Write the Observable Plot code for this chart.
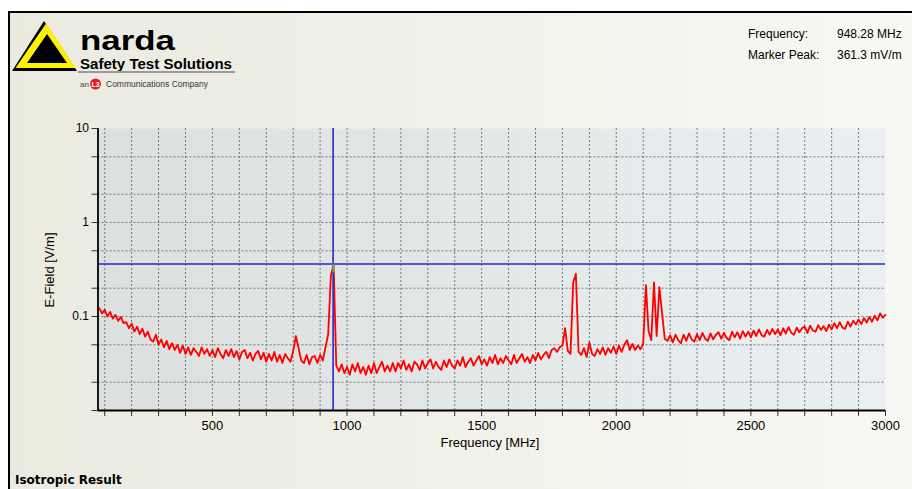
<!DOCTYPE html>
<html>
<head>
<meta charset="utf-8">
<script src="https://cdn.jsdelivr.net/npm/d3@7"></script>
<script src="https://cdn.jsdelivr.net/npm/@observablehq/plot@0.6"></script>
<style>
html, body { margin: 0; padding: 0; background: #fff; width: 912px; height: 489px; overflow: hidden; }
#wrap { position: relative; width: 912px; height: 489px; }
#bg { position: absolute; left: 8px; top: 11px; width: 904px; height: 478px; box-sizing: border-box;
      border-left: 2px solid #000; border-top: 2px solid #000;
      background: linear-gradient(to right, #EBEADF, #F8F8F4); }
#chart { position: absolute; left: 0; top: 0; }
#overlay { position: absolute; left: 0; top: 0; }
</style>
</head>
<body>
<div id="wrap">
  <div id="bg"></div>
  <div id="chart"></div>
  <svg id="overlay" width="912" height="489" xmlns="http://www.w3.org/2000/svg">
    <!-- logo -->
    <polygon points="44,21 12,71 77,71" fill="#000"/>
    <polygon points="46,23.5 15.5,68 75.5,68" fill="#FFF200"/>
    <polygon points="47,34 27,63 67,63" fill="#000"/>
    <text x="80" y="49.5" font-family="'Liberation Sans', Arial, sans-serif" font-weight="bold" font-size="27" textLength="95" lengthAdjust="spacingAndGlyphs" fill="#000">narda</text>
    <text x="80" y="69" font-family="'Liberation Sans', Arial, sans-serif" font-weight="bold" font-size="14.5" textLength="152" lengthAdjust="spacingAndGlyphs" fill="#000">Safety Test Solutions</text>
    <line x1="78" y1="72" x2="235" y2="72" stroke="#9a9a9a" stroke-width="2"/>
    <text x="80" y="87" font-family="'Liberation Sans', Arial, sans-serif" font-size="8" fill="#444">an</text>
    <circle cx="95.5" cy="84" r="5.5" fill="#E41E1E"/>
    <text x="95.5" y="86.8" text-anchor="middle" font-family="'Liberation Sans', Arial, sans-serif" font-weight="bold" font-size="7" fill="#fff">L3</text>
    <text x="106" y="87" font-family="'Liberation Sans', Arial, sans-serif" font-size="8.5" fill="#333">Communications Company</text>
    <!-- header -->
    <text id="hdrFreqLabel" x="748" y="38" font-family="'Liberation Sans', Arial, sans-serif" font-size="12" fill="#000">Frequency:</text>
    <text id="hdrFreqVal" x="837" y="38" font-family="'Liberation Sans', Arial, sans-serif" font-size="12" fill="#000"></text>
    <text id="hdrPeakLabel" x="748" y="59" font-family="'Liberation Sans', Arial, sans-serif" font-size="12" fill="#000">Marker Peak:</text>
    <text id="hdrPeakVal" x="837" y="59" font-family="'Liberation Sans', Arial, sans-serif" font-size="12" fill="#000"></text>
    <!-- axis titles -->
    <text transform="translate(54,270) rotate(-90)" text-anchor="middle" font-family="'Liberation Sans', Arial, sans-serif" font-size="13" fill="#000">E-Field [V/m]</text>
    <text x="490" y="447" text-anchor="middle" font-family="'Liberation Sans', Arial, sans-serif" font-size="13" fill="#000">Frequency [MHz]</text>
    <text x="15" y="484" font-family="'DejaVu Sans', sans-serif" font-weight="bold" font-size="12" fill="#000">Isotropic Result</text>
  </svg>
</div>
<script>
// ---------------- data ----------------
const FREQ_START = 80;   // MHz, first sample
const FREQ_STEP = 10;    // MHz between samples
// E-field trace in mV/m, 80 ... 3000 MHz
const fieldMilliVolts = [
  122, 108, 118, 100, 112, 95, 104, 90, 99, 85,        // 80-170
  87, 75, 84, 69, 78, 65, 74, 61, 69, 57,              // 180-270
  54, 64, 50, 57, 47, 55, 45, 52, 44, 50,              // 280-370
  41, 49, 40, 47, 39, 46, 42, 38, 47, 40,              // 380-470
  45, 38, 44, 37, 46, 40, 36, 44, 38, 45,              // 480-570
  37, 43, 35, 42, 44, 36, 41, 34, 40, 43,              // 580-670
  35, 41, 33, 40, 34, 42, 33, 39, 32, 40,              // 680-770
  36, 33, 43, 62, 46, 34, 32, 39, 31, 37,              // 780-870
  38, 32, 39, 34, 47, 65, 270, 361, 30, 26,            // 880-970
  31, 25, 29, 24, 31, 26, 32, 25, 29, 24,              // 980-1070
  30, 25, 32, 25, 29, 33, 26, 30, 26, 32,              // 1080-1170
  26, 32, 28, 34, 27, 31, 26, 33, 31, 27,              // 1180-1270
  34, 28, 32, 35, 28, 33, 29, 27, 34, 29,              // 1280-1370
  35, 30, 28, 34, 30, 37, 29, 33, 36, 30,              // 1380-1470
  34, 38, 31, 35, 30, 37, 32, 39, 31, 36,              // 1480-1570
  32, 38, 34, 31, 39, 32, 36, 40, 33, 37,              // 1580-1670
  32, 39, 34, 41, 35, 39, 42, 36, 44, 46,              // 1680-1770
  42, 47, 49, 75, 43, 40, 230, 285, 42, 39,            // 1780-1870
  46, 37, 53, 40, 38, 45, 40, 47, 39, 46,              // 1880-1970
  41, 48, 40, 49, 42, 50, 56, 44, 51, 44,              // 1980-2070
  49, 45, 51, 215, 70, 56, 230, 62, 205, 110,          // 2080-2170
  58, 55, 63, 53, 64, 56, 52, 64, 55, 66,              // 2180-2270
  57, 54, 65, 56, 67, 58, 55, 66, 57, 64,              // 2280-2370
  68, 58, 67, 59, 56, 69, 60, 68, 58, 70,              // 2380-2470
  61, 69, 60, 71, 62, 73, 63, 61, 72, 64,              // 2480-2570
  74, 65, 73, 63, 75, 66, 77, 67, 64, 76,              // 2580-2670
  68, 75, 78, 67, 80, 71, 69, 81, 72, 79,              // 2680-2770
  70, 82, 73, 85, 75, 87, 76, 74, 88, 78,              // 2780-2870
  90, 82, 93, 83, 96, 86, 99, 88, 102, 91,             // 2880-2970
  108, 97, 104                                         // 2980-3000
];
const xDomain = [75, 3000];
const yDomain = [0.01, 10];
const xLabeledTicks = [500, 1000, 1500, 2000, 2500, 3000];
const xMinorTicks = [100, 200, 300, 400, 500, 600, 700, 800, 900, 1000, 1100, 1200, 1300, 1400, 1500,
  1600, 1700, 1800, 1900, 2000, 2100, 2200, 2300, 2400, 2500, 2600, 2700, 2800, 2900, 3000];
const yTicks = [10, 5, 2, 1, 0.5, 0.2, 0.1, 0.05, 0.02, 0.01];
const yLabeledTicks = [10, 1, 0.1];
const markerFreq = 948.28;     // MHz
const markerPeak = 0.3613;     // V/m
const markerHighlightLow = 0.29; // V/m, lower end of the highlighted peak segment

// ---------------- build ----------------
const trace = fieldMilliVolts.map((v, i) => ({f: FREQ_START + i * FREQ_STEP, e: v / 1000}));
const xGrid = xMinorTicks.filter(d => d < xDomain[1]);
const yGrid = yTicks.filter(d => d > yDomain[0] && d < yDomain[1]);

document.getElementById("hdrFreqVal").textContent = markerFreq.toFixed(2) + " MHz";
document.getElementById("hdrPeakVal").textContent = (markerPeak * 1000).toFixed(1) + " mV/m";

const svg = Plot.plot({
  width: 912,
  height: 489,
  marginLeft: 97.5,
  marginRight: 27,
  marginTop: 128,
  marginBottom: 79,
  style: {background: "transparent", fontFamily: "'Liberation Sans', Arial, sans-serif", fontSize: "13px", color: "#000"},
  x: {type: "linear", domain: xDomain},
  y: {type: "log", domain: yDomain},
  marks: [
    Plot.frame({fill: "url(#plotbg)", stroke: "none"}),
    Plot.ruleX(xGrid, {stroke: "#777", strokeWidth: 1, strokeDasharray: "2,2"}),
    Plot.ruleY(yGrid, {stroke: "#777", strokeWidth: 1, strokeDasharray: "2,2"}),
    Plot.line(trace, {x: "f", y: "e", stroke: "#FF0000", strokeWidth: 1.8}),
    Plot.ruleX([markerFreq], {stroke: "#2626C8", strokeWidth: 1.6}),
    Plot.ruleY([markerPeak], {stroke: "#2626C8", strokeWidth: 1.6}),
    Plot.ruleX([{x: markerFreq, y1: markerHighlightLow, y2: markerPeak}], {x: "x", y1: "y1", y2: "y2", stroke: "#58C040", strokeWidth: 1.6}),
    Plot.axisX({ticks: xMinorTicks, tickSize: 6, tickPadding: 4, stroke: "#333", fontSize: 13, label: null,
      tickFormat: d => xLabeledTicks.includes(d) ? String(d) : ""}),
    Plot.axisY({ticks: yTicks, tickSize: 6, tickPadding: 3, stroke: "#333", fontSize: 12, label: null,
      tickFormat: d => yLabeledTicks.includes(d) ? String(d) : ""}),
    Plot.ruleX([xDomain[0]], {stroke: "#000", strokeWidth: 1.8}),
    Plot.ruleY([yDomain[0]], {stroke: "#000", strokeWidth: 1.8})
  ]
});

const defs = d3.select(svg).insert("defs", ":first-child");
const grad = defs.append("linearGradient").attr("id", "plotbg")
  .attr("x1", "0").attr("y1", "0").attr("x2", "1").attr("y2", "0");
grad.append("stop").attr("offset", "0").attr("stop-color", "#DCE0DE");
grad.append("stop").attr("offset", "1").attr("stop-color", "#EAEFF2");

document.getElementById("chart").appendChild(svg);
</script>
</body>
</html>
